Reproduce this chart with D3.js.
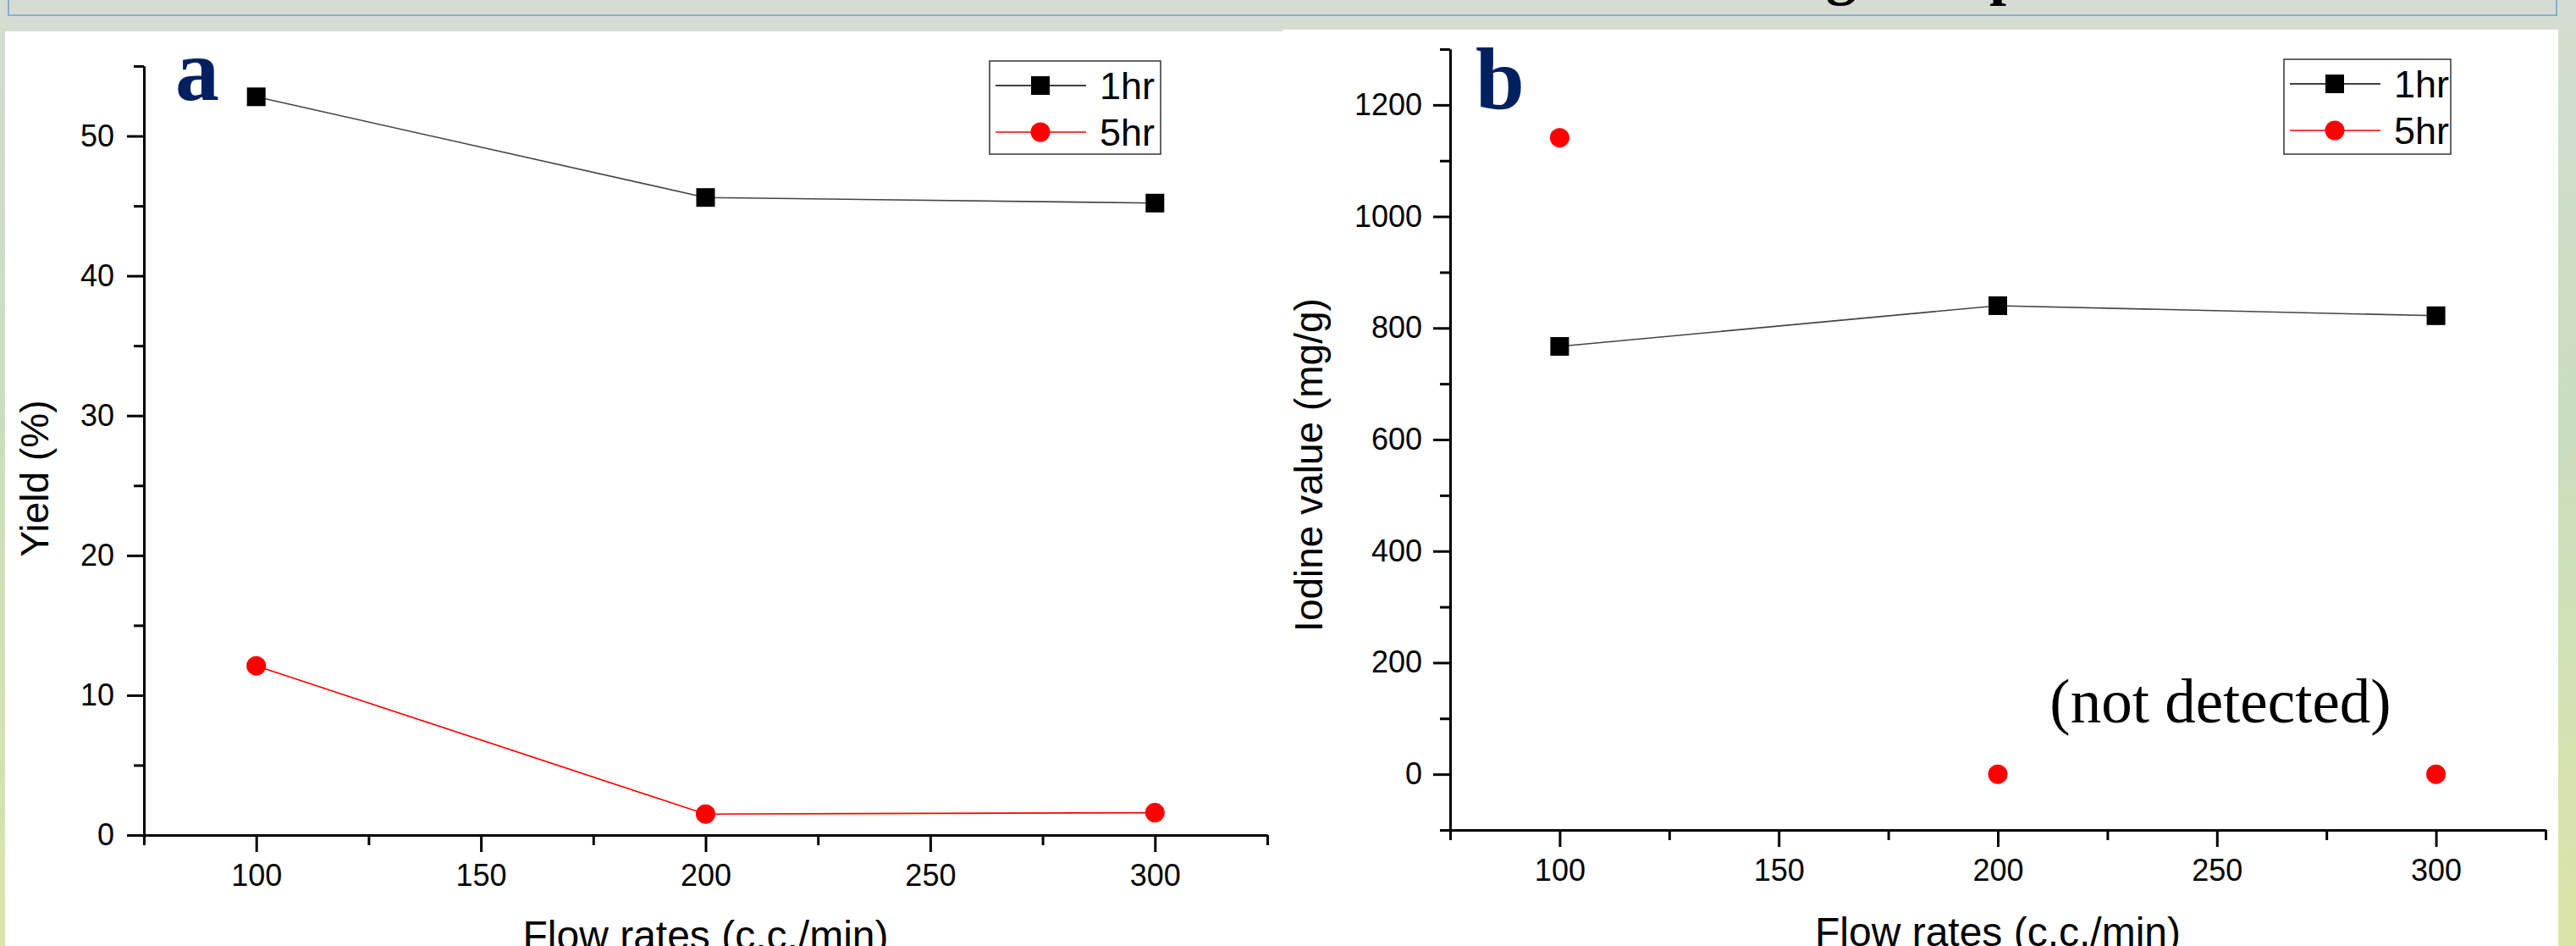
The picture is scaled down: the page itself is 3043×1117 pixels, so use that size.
<!DOCTYPE html>
<html>
<head>
<meta charset="utf-8">
<script src="https://cdn.jsdelivr.net/npm/d3@7"></script>
<style>
body { margin: 0; background: #d5ddd2; }
svg { display: block; }
</style>
</head>
<body>
<svg id="fig" width="3043" height="1117"></svg>
<script>
// valeurs
const flowRates = [100, 200, 300];
const yield1hr = [52.8, 45.6, 45.2];
const yield5hr = [12.1, 1.5, 1.6];
const iodine1hr = [767, 840, 822];
const iodine5hr = [1141, 0, 0];

// ticks
const xMajor = [100, 150, 200, 250, 300];
const xMinor = [75, 125, 175, 225, 275, 325];
const yieldMajor = [0, 10, 20, 30, 40, 50];
const yieldMinor = [5, 15, 25, 35, 45, 55];
const iodineMajor = [0, 200, 400, 600, 800, 1000, 1200];
const iodineMinor = [-100, 100, 300, 500, 700, 900, 1100, 1300];
const seriesNames = ["1hr", "5hr"];

const sans = "Arial, 'Liberation Sans', sans-serif";
const serif = "'Times New Roman', 'Liberation Serif', serif";
const svg = d3.select("#fig");

///////////////////////////////
// fond de la diapo
///////////////////////////////
const defs = svg.append("defs");
const grad = defs.append("linearGradient").attr("id", "bg")
    .attr("x1", 0).attr("y1", 0).attr("x2", 0).attr("y2", 1);
grad.append("stop").attr("offset", "0%").attr("stop-color", "#d3dccf");
grad.append("stop").attr("offset", "45%").attr("stop-color", "#c9dec0");
grad.append("stop").attr("offset", "100%").attr("stop-color", "#dbe4a8");

svg.append("rect").attr("width", 3043).attr("height", 1117).attr("fill", "url(#bg)");
svg.append("rect").attr("width", 3043).attr("height", 36).attr("fill", "#d5ddd2");
svg.append("rect")
    .attr("x", 10).attr("y", -20).attr("width", 3010).attr("height", 38)
    .attr("fill", "none").attr("stroke", "#6a9fd6").attr("stroke-width", 1.5);

// bouts du titre coupé en haut
svg.append("text").attr("x", 2157).attr("y", -8)
    .attr("font-family", serif).attr("font-weight", 700).attr("font-size", 72)
    .text("g");
svg.append("text").attr("x", 2350).attr("y", -8)
    .attr("font-family", serif).attr("font-weight", 700).attr("font-size", 72)
    .text("p");

// les deux images blanches
svg.append("rect").attr("x", 6).attr("y", 37).attr("width", 1509).attr("height", 1080).attr("fill", "#fff");
svg.append("rect").attr("x", 1515).attr("y", 35).attr("width", 1507).attr("height", 1082).attr("fill", "#fff");

///////////////////////////////
// panneaux
///////////////////////////////
const panels = [
    {
        label: "a", labelX: 207, labelY: 118,
        xRange: [170, 1497], yRange: [986, 78], yDomain: [0, 55],
        yMajor: yieldMajor, yMinor: yieldMinor, yPad: 15,
        s1: yield1hr, s2: yield5hr, line2: true,
        yTitle: "Yield (%)", yTitleX: 57, yTitleY: 565,
        xTitleY: 1121,
        legend: { x: 1169, y: 72, w: 202, h: 110 }
    },
    {
        label: "b", labelX: 1743, labelY: 128,
        xRange: [1713, 3007], yRange: [980, 58], yDomain: [-100, 1300],
        yMajor: iodineMajor, yMinor: iodineMinor, yPad: 13,
        s1: iodine1hr, s2: iodine5hr, line2: false,
        yTitle: "Iodine value (mg/g)", yTitleX: 1562, yTitleY: 549,
        xTitleY: 1117,
        legend: { x: 2698, y: 70, w: 197, h: 112 }
    }
];

panels.forEach(drawPanel);

function drawPanel(p) {
    const x = d3.scaleLinear().domain([75, 325]).range(p.xRange);
    const y = d3.scaleLinear().domain(p.yDomain).range(p.yRange);
    const g = svg.append("g");
    const x0 = p.xRange[0], yb = p.yRange[0];

    // axe y
    g.append("g").attr("transform", "translate(" + x0 + ",0)")
        .call(d3.axisLeft(y).tickValues(p.yMinor).tickSize(12).tickSizeOuter(0).tickFormat(""));
    g.append("g").attr("transform", "translate(" + x0 + ",0)")
        .call(d3.axisLeft(y).tickValues(p.yMajor).tickSize(20).tickSizeOuter(0)
            .tickPadding(p.yPad).tickFormat(d3.format("d")));

    // axe x
    g.append("g").attr("transform", "translate(0," + yb + ")")
        .call(d3.axisBottom(x).tickValues(xMinor).tickSize(12).tickSizeOuter(0).tickFormat(""));
    g.append("g").attr("transform", "translate(0," + yb + ")")
        .call(d3.axisBottom(x).tickValues(xMajor).tickSize(20).tickSizeOuter(0)
            .tickPadding(14).tickFormat(d3.format("d")));

    g.selectAll(".domain, .tick line").attr("stroke", "#000").attr("stroke-width", 3);
    g.selectAll(".tick text").attr("font-family", sans).attr("font-size", 36).attr("fill", "#000");

    // titres des axes
    g.append("text")
        .attr("transform", "translate(" + p.yTitleX + "," + p.yTitleY + ") rotate(-90)")
        .attr("text-anchor", "middle")
        .attr("font-family", sans).attr("font-size", 46)
        .text(p.yTitle);
    g.append("text")
        .attr("x", (p.xRange[0] + p.xRange[1]) / 2).attr("y", p.xTitleY)
        .attr("text-anchor", "middle")
        .attr("font-family", sans).attr("font-size", 48)
        .text("Flow rates (c.c./min)");

    // lettre du panneau
    g.append("text").attr("x", p.labelX).attr("y", p.labelY)
        .attr("font-family", serif).attr("font-weight", 700).attr("font-size", 104)
        .attr("fill", "#002060")
        .text(p.label);

    const line = d3.line().x((d, i) => x(flowRates[i])).y(d => y(d));

    g.append("path").datum(p.s1).attr("d", line)
        .attr("fill", "none").attr("stroke", "#444").attr("stroke-width", 1.6);
    if (p.line2) {
        g.append("path").datum(p.s2).attr("d", line)
            .attr("fill", "none").attr("stroke", "#ff0000").attr("stroke-width", 1.6);
    }

    g.selectAll(".sq").data(p.s1).enter().append("rect")
        .attr("x", (d, i) => x(flowRates[i]) - 11)
        .attr("y", d => y(d) - 11)
        .attr("width", 22).attr("height", 22).attr("fill", "#000");
    g.selectAll(".dot").data(p.s2).enter().append("circle")
        .attr("cx", (d, i) => x(flowRates[i]))
        .attr("cy", d => y(d))
        .attr("r", 11.5).attr("fill", "#ff0000");

    // légende
    const L = p.legend;
    const lg = g.append("g").attr("transform", "translate(" + L.x + "," + L.y + ")");
    lg.append("rect").attr("width", L.w).attr("height", L.h)
        .attr("fill", "#fff").attr("stroke", "#333").attr("stroke-width", 1.5);
    seriesNames.forEach(function(name, i) {
        const ry = i == 0 ? 29 : 84;
        const col = i == 0 ? "#000" : "#ff0000";
        lg.append("line").attr("x1", 7).attr("x2", 114).attr("y1", ry).attr("y2", ry)
            .attr("stroke", col).attr("stroke-width", 1.5);
        if (i == 0) {
            lg.append("rect").attr("x", 60 - 11).attr("y", ry - 11)
                .attr("width", 22).attr("height", 22).attr("fill", "#000");
        } else {
            lg.append("circle").attr("cx", 60).attr("cy", ry).attr("r", 11.5).attr("fill", "#ff0000");
        }
        lg.append("text").attr("x", 130).attr("y", ry + 16)
            .attr("font-family", sans).attr("font-size", 45)
            .text(name);
    });
}

// annotation panneau b
svg.append("text").attr("x", 2623).attr("y", 853)
    .attr("text-anchor", "middle")
    .attr("font-family", serif).attr("font-size", 73)
    .text("(not detected)");
</script>
</body>
</html>
